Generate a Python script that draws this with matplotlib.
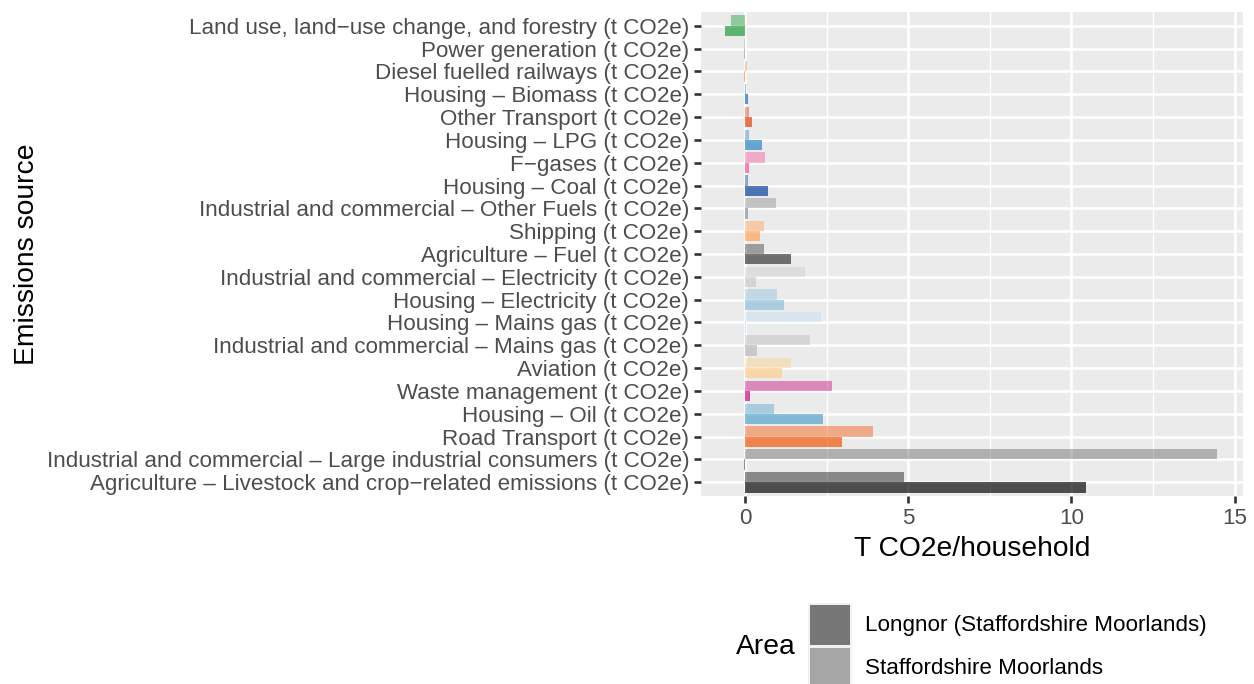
import matplotlib
matplotlib.use("Agg")
import matplotlib.pyplot as plt
from matplotlib.patches import Rectangle
import numpy as np

plt.rcParams['font.family'] = ['Liberation Sans', 'DejaVu Sans']

# categories, top to bottom as shown
categories = [
    "Land use, land\u2212use change, and forestry (t CO2e)",
    "Power generation (t CO2e)",
    "Diesel fuelled railways (t CO2e)",
    "Housing \u2013 Biomass (t CO2e)",
    "Other Transport (t CO2e)",
    "Housing \u2013 LPG (t CO2e)",
    "F\u2212gases (t CO2e)",
    "Housing \u2013 Coal (t CO2e)",
    "Industrial and commercial \u2013 Other Fuels (t CO2e)",
    "Shipping (t CO2e)",
    "Agriculture \u2013 Fuel (t CO2e)",
    "Industrial and commercial \u2013 Electricity (t CO2e)",
    "Housing \u2013 Electricity (t CO2e)",
    "Housing \u2013 Mains gas (t CO2e)",
    "Industrial and commercial \u2013 Mains gas (t CO2e)",
    "Aviation (t CO2e)",
    "Waste management (t CO2e)",
    "Housing \u2013 Oil (t CO2e)",
    "Road Transport (t CO2e)",
    "Industrial and commercial \u2013 Large industrial consumers (t CO2e)",
    "Agriculture \u2013 Livestock and crop\u2212related emissions (t CO2e)",
]

longnor = [-0.62, -0.03, -0.03, 0.07, 0.20, 0.52, 0.12, 0.68, 0.09, 0.46, 1.40,
           0.34, 1.19, 0.02, 0.37, 1.13, 0.15, 2.38, 2.96, -0.03, 10.45]
staffs = [-0.43, -0.03, 0.04, 0.03, 0.12, 0.12, 0.61, 0.09, 0.94, 0.58, 0.58,
          1.83, 0.98, 2.32, 1.98, 1.40, 2.65, 0.88, 3.90, 14.46, 4.87]

colours = ["#149a32", "#989898", "#fd8d3c", "#1063c3", "#e03a00", "#2282c5",
           "#fa4e99", "#00389c", "#8a8a8a", "#ffa04e", "#303030", "#cacaca",
           "#8abedc", "#c3dbf3", "#b7b7b7", "#ffcd8a", "#c8007a", "#4ea0cd",
           "#f24e00", "#5d5d5d", "#000000"]

areas = ["Longnor (Staffordshire Moorlands)", "Staffordshire Moorlands"]
area_alpha = [0.67, 0.42]
legend_cols = ["#777777", "#a6a6a6"]

n = len(categories)
y = np.arange(n)[::-1]  # top category gets the highest position
w = 0.45

fig = plt.figure(figsize=(12.54, 6.84), dpi=100)
ax = fig.add_axes([701 / 1254, 1 - 496 / 684, 542 / 1254, 484 / 684])
ax.set_facecolor("#ebebeb")

ax.barh(y - w / 2, longnor, height=w, color=colours, alpha=area_alpha[0], zorder=3)
ax.barh(y + w / 2, staffs, height=w, color=colours, alpha=area_alpha[1], zorder=3)

ax.set_xlim(-1.36, 15.26)
ax.set_ylim(-0.6, n - 0.4)
ax.set_xticks([0, 5, 10, 15])
ax.set_xticks([2.5, 7.5, 12.5], minor=True)
ax.set_yticks(y)
ax.set_yticklabels(categories)

ax.grid(True, which="major", color="white", linewidth=1.9, zorder=1)
ax.grid(True, which="minor", axis="x", color="white", linewidth=0.95, zorder=1)
ax.set_axisbelow(True)
for s in ax.spines.values():
    s.set_visible(False)
ax.tick_params(axis="both", which="major", length=5, width=1.9, color="#333333",
               labelcolor="#4d4d4d", labelsize=16.1, pad=3.5)
ax.tick_params(axis="x", which="minor", length=0)

ax.set_xlabel("T CO2e/household", fontsize=20.3, color="black", labelpad=5)
ax.set_ylabel("Emissions source", fontsize=20.3, color="black", labelpad=4.5)

# legend drawn in figure pixel coordinates (ggplot style, title on the left)
def fx(px):
    return px / 1254

def fy(py):
    return 1 - py / 684

fig.text(fx(736), fy(647), "Area", fontsize=20.3, va="center", ha="left")
fig.patches.append(Rectangle((fx(808), fy(684)), fx(44), 81 / 684, transform=fig.transFigure,
                             facecolor="#f2f2f2", edgecolor="none"))
key_tops = [605, 648]
for i, lab in enumerate(areas):
    fig.patches.append(Rectangle((fx(810), fy(key_tops[i] + 40)), fx(40), 40 / 684,
                                 transform=fig.transFigure, facecolor=legend_cols[i],
                                 edgecolor="none"))
    fig.text(fx(865), fy(key_tops[i] + 21), lab, fontsize=16.1, va="center", ha="left")

fig.savefig("out.png", dpi=100)
